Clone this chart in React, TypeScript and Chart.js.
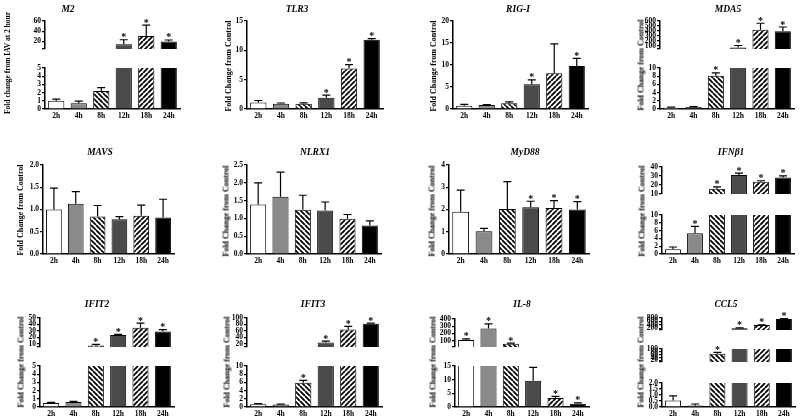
import React, { useEffect, useRef } from 'react';
import { Chart, registerables } from 'chart.js';

Chart.register(...registerables);

const categories = ['2h', '4h', '8h', '12h', '18h', '24h'];

const m2Mean = [1.0, 0.7, 2.2, 14.5, 30.5, 19.5];
const m2Err = [0.2, 0.25, 0.4, 8.7, 21.5, 3.2];
const m2Sig = [0, 0, 0, 1, 1, 1];

const tlr3Mean = [1.1, 0.9, 0.9, 1.9, 6.9, 11.8];
const tlr3Err = [0.35, 0.12, 0.15, 0.45, 0.65, 0.2];
const tlr3Sig = [0, 0, 0, 1, 1, 1];

const rigiMean = [0.75, 0.9, 1.3, 5.6, 8.1, 9.8];
const rigiErr = [0.3, 0.12, 0.3, 1.0, 6.7, 1.7];
const rigiSig = [0, 0, 0, 1, 0, 1];

const mda5Mean = [0.3, 0.5, 8.1, 70, 425, 395];
const mda5Err = [0.15, 0.1, 0.7, 40, 130, 85];
const mda5Sig = [0, 0, 1, 1, 1, 1];

const mavsMean = [1.0, 1.13, 0.84, 0.78, 0.86, 0.82];
const mavsErr = [0.48, 0.27, 0.25, 0.06, 0.24, 0.41];
const mavsSig = [0, 0, 0, 0, 0, 0];

const nlrx1Mean = [1.39, 1.61, 1.24, 1.22, 0.99, 0.8];
const nlrx1Err = [0.61, 0.69, 0.41, 0.24, 0.12, 0.13];
const nlrx1Sig = [0, 0, 0, 0, 0, 0];

const myd88Mean = [1.9, 1.02, 2.02, 2.1, 2.07, 2.0];
const myd88Err = [0.97, 0.13, 1.23, 0.27, 0.33, 0.35];
const myd88Sig = [0, 0, 0, 1, 1, 1];

const ifnb1Mean = [1.2, 5.3, 15.9, 31.1, 23.5, 28.4];
const ifnb1Err = [0.6, 1.8, 2.0, 2.0, 1.2, 1.8];
const ifnb1Sig = [0, 1, 1, 1, 1, 1];

const ifit2Mean = [0.5, 0.6, 7.5, 23.5, 35, 29];
const ifit2Err = [0.06, 0.08, 1.5, 1.2, 7, 3];
const ifit2Sig = [0, 0, 1, 1, 1, 1];

const ifit3Mean = [0.7, 0.6, 5.9, 24, 64, 82];
const ifit3Err = [0.1, 0.1, 0.6, 4, 10, 2];
const ifit3Sig = [0, 0, 1, 1, 1, 1];

const il8Mean = [112, 270, 58, 9.6, 3.3, 1.2];
const il8Err = [15, 62, 10, 4.9, 0.6, 0.3];
const il8Sig = [1, 1, 1, 0, 1, 1];

const ccl5Mean = [0.55, 0.12, 67, 200, 390, 740];
const ccl5Err = [0.37, 0.13, 10, 25, 12, 18];
const ccl5Sig = [0, 0, 1, 1, 1, 1];

type Seg = { min: number; max: number; ticks: number[]; top: number; bottom: number; dec?: number; hideMin?: boolean };
type PanelDef = {
  title: string; yTitle: string; yTitleSize?: number;
  mean: number[]; err: number[]; sig: number[];
  axisX: number; right: number; titleX: number; titleY: number; yTitleX: number; yTitleY: number;
  segs: Seg[];
};

const FONT = '"Liberation Serif", "Times New Roman", serif';
const YW = 32, PR = 3, PT = 10, XH = 13;

const panels: PanelDef[] = [
  { title: 'M2', yTitle: 'Fold change from IAV at 2 hour', yTitleSize: 7.5, mean: m2Mean, err: m2Err, sig: m2Sig,
    axisX: 45, right: 180, titleX: 68, titleY: 9, yTitleX: 7, yTitleY: 63,
    segs: [
      { min: 5, max: 60, ticks: [5, 20, 40, 60], hideMin: true, top: 21, bottom: 62 },
      { min: 0, max: 5, ticks: [0, 1, 2, 3, 4, 5], top: 68, bottom: 109 },
    ] },
  { title: 'TLR3', yTitle: 'Fold Change from Control', mean: tlr3Mean, err: tlr3Err, sig: tlr3Sig,
    axisX: 247, right: 383, titleX: 297, titleY: 9, yTitleX: 228, yTitleY: 66,
    segs: [{ min: 0, max: 15, ticks: [0, 5, 10, 15], top: 21, bottom: 109 }] },
  { title: 'RIG-I', yTitle: 'Fold Change from Control', mean: rigiMean, err: rigiErr, sig: rigiSig,
    axisX: 453, right: 588, titleX: 518, titleY: 9, yTitleX: 433, yTitleY: 66,
    segs: [{ min: 0, max: 20, ticks: [0, 5, 10, 15, 20], top: 21, bottom: 109 }] },
  { title: 'MDA5', yTitle: 'Fold Change from Control', mean: mda5Mean, err: mda5Err, sig: mda5Sig,
    axisX: 660, right: 794, titleX: 728, titleY: 9, yTitleX: 641, yTitleY: 65,
    segs: [
      { min: 40, max: 600, ticks: [40, 100, 200, 300, 400, 500, 600], hideMin: true, top: 21, bottom: 62 },
      { min: 0, max: 10, ticks: [0, 2, 4, 6, 8, 10], top: 68, bottom: 109 },
    ] },
  { title: 'MAVS', yTitle: 'Fold Change from Control', mean: mavsMean, err: mavsErr, sig: mavsSig,
    axisX: 43, right: 174, titleX: 100, titleY: 152, yTitleX: 20, yTitleY: 210,
    segs: [{ min: 0, max: 2, ticks: [0, 0.5, 1, 1.5, 2], dec: 1, top: 165, bottom: 254 }] },
  { title: 'NLRX1', yTitle: 'Fold Change from Control', mean: nlrx1Mean, err: nlrx1Err, sig: nlrx1Sig,
    axisX: 247, right: 381, titleX: 315, titleY: 152, yTitleX: 226, yTitleY: 211,
    segs: [{ min: 0, max: 2.5, ticks: [0, 0.5, 1, 1.5, 2, 2.5], dec: 1, top: 165, bottom: 254 }] },
  { title: 'MyD88', yTitle: 'Fold Change from Control', mean: myd88Mean, err: myd88Err, sig: myd88Sig,
    axisX: 449, right: 589, titleX: 525, titleY: 152, yTitleX: 432, yTitleY: 211,
    segs: [{ min: 0, max: 4, ticks: [0, 1, 2, 3, 4], top: 165, bottom: 254 }] },
  { title: 'IFNβ1', yTitle: 'Fold Change from Control', mean: ifnb1Mean, err: ifnb1Err, sig: ifnb1Sig,
    axisX: 662, right: 794, titleX: 731, titleY: 152, yTitleX: 642, yTitleY: 211,
    segs: [
      { min: 10, max: 40, ticks: [10, 20, 30, 40], top: 167, bottom: 207 },
      { min: 0, max: 10, ticks: [0, 2, 4, 6, 8, 10], top: 215, bottom: 254 },
    ] },
  { title: 'IFIT2', yTitle: 'Fold Change from Control', mean: ifit2Mean, err: ifit2Err, sig: ifit2Sig,
    axisX: 40, right: 174, titleX: 97, titleY: 304, yTitleX: 21, yTitleY: 362,
    segs: [
      { min: 5, max: 50, ticks: [5, 10, 20, 30, 40, 50], hideMin: true, top: 318, bottom: 360 },
      { min: 0, max: 5, ticks: [0, 1, 2, 3, 4, 5], top: 366, bottom: 407 },
    ] },
  { title: 'IFIT3', yTitle: 'Fold Change from Control', mean: ifit3Mean, err: ifit3Err, sig: ifit3Sig,
    axisX: 247, right: 382, titleX: 313, titleY: 304, yTitleX: 227, yTitleY: 362,
    segs: [
      { min: 10, max: 100, ticks: [10, 20, 40, 60, 80, 100], hideMin: true, top: 318, bottom: 360 },
      { min: 0, max: 10, ticks: [0, 2, 4, 6, 8, 10], top: 366, bottom: 407 },
    ] },
  { title: 'IL-8', yTitle: 'Fold Change from Control', mean: il8Mean, err: il8Err, sig: il8Sig,
    axisX: 455, right: 589, titleX: 522, titleY: 304, yTitleX: 433, yTitleY: 362,
    segs: [
      { min: 15, max: 400, ticks: [15, 100, 200, 300, 400], hideMin: true, top: 319, bottom: 360 },
      { min: 0, max: 15, ticks: [0, 5, 10, 15], top: 366, bottom: 407 },
    ] },
  { title: 'CCL5', yTitle: 'Fold Change from Control', mean: ccl5Mean, err: ccl5Err, sig: ccl5Sig,
    axisX: 662, right: 795, titleX: 726, titleY: 304, yTitleX: 641, yTitleY: 362,
    segs: [
      { min: 100, max: 800, ticks: [100, 200, 400, 600, 800], hideMin: true, top: 318, bottom: 343 },
      { min: 10, max: 100, ticks: [10, 20, 40, 60, 80, 100], hideMin: true, top: 349, bottom: 375 },
      { min: 0, max: 2, ticks: [0, 0.5, 1, 1.5, 2], dec: 1, top: 383, bottom: 407 },
    ] },
];

function mkPattern(forward: boolean) {
  const s = 5;
  const c = document.createElement('canvas');
  c.width = s; c.height = s;
  const g = c.getContext('2d')!;
  g.fillStyle = '#fff';
  g.fillRect(0, 0, s, s);
  g.strokeStyle = '#000';
  g.lineWidth = 1.8;
  g.beginPath();
  for (let k = -1; k <= 1; k++) {
    if (forward) { g.moveTo(k * s, s); g.lineTo(k * s + s, 0); }
    else { g.moveTo(k * s, 0); g.lineTo(k * s + s, s); }
  }
  g.stroke();
  return g.createPattern(c, 'repeat')!;
}

let fillCache: any[] | null = null;
function getFills() {
  if (!fillCache) fillCache = ['#ffffff', '#8a8a8a', mkPattern(false), '#4a4a4a', mkPattern(true), '#000000'];
  return fillCache;
}

function makeErrPlugin(err: number[], sig: number[], seg: Seg, mean: number[]) {
  return {
    id: 'errbars',
    afterDatasetsDraw(chart: any) {
      const { ctx, chartArea } = chart;
      const meta = chart.getDatasetMeta(0);
      const ys = chart.scales.y;
      ctx.save();
      ctx.beginPath();
      ctx.rect(chartArea.left, chartArea.top, chartArea.right - chartArea.left, chartArea.bottom - chartArea.top);
      ctx.clip();
      ctx.strokeStyle = '#000';
      ctx.lineWidth = 1.2;
      meta.data.forEach((bar: any, i: number) => {
        const v = mean[i];
        const t = v + err[i];
        if (t < seg.min) return;
        const y0 = ys.getPixelForValue(Math.max(v, seg.min));
        const y1 = ys.getPixelForValue(t);
        ctx.beginPath();
        ctx.moveTo(bar.x, y0);
        ctx.lineTo(bar.x, y1);
        ctx.moveTo(bar.x - 4, y1);
        ctx.lineTo(bar.x + 4, y1);
        ctx.stroke();
      });
      ctx.restore();
      ctx.save();
      ctx.fillStyle = '#000';
      ctx.font = 'bold 10px ' + FONT;
      ctx.textAlign = 'center';
      ctx.textBaseline = 'alphabetic';
      meta.data.forEach((bar: any, i: number) => {
        if (!sig[i]) return;
        const t = mean[i] + err[i];
        if (t < seg.min || t > seg.max) return;
        const y1 = ys.getPixelForValue(t);
        ctx.fillText('*', bar.x, y1 + 0.5);
      });
      ctx.restore();
    },
  };
}

function SegChart({ p, seg, lowest }: { p: PanelDef; seg: Seg; lowest: boolean }) {
  const ref = useRef<HTMLCanvasElement>(null);
  const top = Math.round(seg.top) - PT;
  const left = Math.round(p.axisX) - YW;
  const width = Math.round(p.right) - Math.round(p.axisX) + YW + PR;
  const height = Math.round(seg.bottom) - Math.round(seg.top) + PT + (lowest ? XH : 0);
  useEffect(() => {
    const tickFont = { family: FONT, size: 7.5, weight: 'bold' as const };
    const segData = p.mean.map((v) => (lowest || v > seg.min ? v : null));
    const chart = new Chart(ref.current!, {
      type: 'bar',
      data: {
        labels: categories,
        datasets: [{
          data: segData,
          backgroundColor: getFills(),
          borderColor: '#000',
          borderWidth: 1,
          barPercentage: 0.72,
          categoryPercentage: 1,
          clip: 0,
        } as any],
      },
      options: {
        animation: false,
        responsive: false,
        maintainAspectRatio: false,
        devicePixelRatio: 1,
        layout: { padding: { top: PT, right: PR, left: 0, bottom: 0 } },
        plugins: { legend: { display: false }, tooltip: { enabled: false }, title: { display: false } },
        scales: {
          x: {
            display: lowest,
            grid: { display: false, drawTicks: false },
            border: { display: true, color: '#000', width: 1.5 },
            ticks: { color: '#000', font: tickFont, padding: 3, maxRotation: 0, autoSkip: false },
            afterFit: (s: any) => { s.height = XH; s.paddingLeft = 0; s.paddingRight = 0; },
          },
          y: {
            min: seg.min,
            max: seg.max,
            afterBuildTicks: (s: any) => { s.ticks = seg.ticks.map((v) => ({ value: v })); },
            afterFit: (s: any) => { s.width = YW; s.paddingTop = 0; s.paddingBottom = 0; },
            grid: { display: true, drawOnChartArea: false, drawTicks: true, tickLength: 3, color: '#000', lineWidth: 1.2 },
            border: { display: true, color: '#000', width: 1.5 },
            ticks: {
              color: '#000', font: tickFont, padding: 1, autoSkip: false,
              callback: (v: any) => (seg.hideMin && Number(v) === seg.min ? '' : Number(v).toFixed(seg.dec ?? 0)),
            },
          },
        },
      } as any,
      plugins: [makeErrPlugin(p.err, p.sig, seg, p.mean)],
    });
    return () => chart.destroy();
  }, []);
  return <canvas ref={ref} width={width} height={height} style={{ position: 'absolute', left, top, width, height }} />;
}

function Panel({ p }: { p: PanelDef }) {
  return (
    <>
      {p.segs.map((s, i) => (
        <SegChart key={i} p={p} seg={s} lowest={i === p.segs.length - 1} />
      ))}
      <div style={{
        position: 'absolute', left: p.titleX, top: p.titleY, transform: 'translate(-50%, -50%)',
        font: `italic bold 9.5px ${FONT}`, whiteSpace: 'nowrap', color: '#000',
      }}>{p.title}</div>
      <div style={{
        position: 'absolute', left: p.yTitleX, top: p.yTitleY, transform: 'translate(-50%, -50%) rotate(-90deg)',
        font: `bold ${p.yTitleSize ?? 8}px ${FONT}`, whiteSpace: 'nowrap', color: '#000',
      }}>{p.yTitle}</div>
    </>
  );
}

export default function App() {
  return (
    <div style={{ position: 'absolute', left: 0, top: 0, width: 800, height: 420, background: '#fff', overflow: 'hidden' }}>
      {panels.map((p, i) => <Panel key={i} p={p} />)}
    </div>
  );
}
